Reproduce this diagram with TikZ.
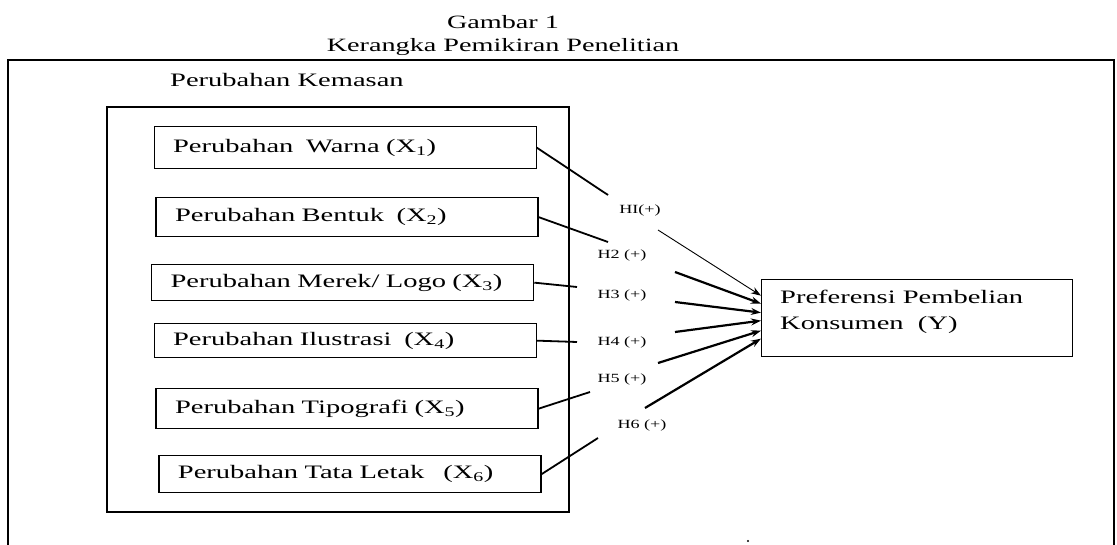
\documentclass[tikz,border=0pt]{standalone}
\usepackage{fontspec}
\setmainfont[FakeStretch=1.5]{Liberation Serif}
\newfontfamily\hlabelfont[FakeStretch=1.45]{Liberation Serif}
\usetikzlibrary{arrows.meta,calc}

\tikzset{
  varbox/.style={draw, line width=1.3pt, anchor=north west, inner xsep=19pt,
    text width=344pt, align=left, font=\fontsize{19}{23}\selectfont},
  hlabel/.style={inner sep=1pt, font=\hlabelfont\fontsize{12.5}{14}\selectfont},
  link/.style={line width=1.8pt},
  hyp/.style={line width=2.2pt, -{Stealth[length=10pt,width=7pt]}},
}

\begin{document}
\begin{tikzpicture}[x=1pt, y=-1pt]
\useasboundingbox (0,0) rectangle (1117,545);
% frames
\draw[line width=1.5pt] (8,545) -- (8,60) -- (1114,60) -- (1114,545);
\draw[line width=1.3pt] (107,107) rectangle (569,512);
\node[anchor=north, inner sep=0pt, align=center, font=\fontsize{18.8}{23.5}\selectfont] (title) at (503,15)
  {Gambar 1\\Kerangka Pemikiran Penelitian};
\node[anchor=base west, inner sep=0pt, font=\fontsize{19}{23}\selectfont] (kemasan) at (170,87) {Perubahan Kemasan};

% variables X
\node[varbox, minimum height=42pt] (x1) at (153.5,126) {Perubahan\ \ Warna (X\textsubscript{1})};
\node[varbox, minimum height=39pt] (x2) at (155.4,197) {Perubahan Bentuk\ \ (X\textsubscript{2})};
\node[varbox, minimum height=36pt] (x3) at (151,264) {Perubahan Merek/ Logo (X\textsubscript{3})};
\node[varbox, minimum height=34pt] (x4) at (153.5,323) {Perubahan Ilustrasi\ \ (X\textsubscript{4})};
\node[varbox, minimum height=40pt] (x5) at (155.4,388) {Perubahan Tipografi (X\textsubscript{5})};
\node[varbox, minimum height=37pt] (x6) at (158.3,455) {Perubahan Tata Letak\ \ \ (X\textsubscript{6})};

% variable Y
\node[draw, line width=1.3pt, anchor=north west, minimum width=311pt, minimum height=77pt] (y) at (761,279) {};
\node[anchor=north west, inner sep=0pt, align=left, font=\fontsize{19}{26}\selectfont] (ytext) at (780,290)
  {Preferensi Pembelian\\Konsumen\ \ (Y)};

% hypotheses
\node[hlabel] (h1) at (640,210) {HI(+)};
\node[hlabel] (h2) at (622,255) {H2 (+)};
\node[hlabel] (h3) at (622,295) {H3 (+)};
\node[hlabel] (h4) at (622,342) {H4 (+)};
\node[hlabel] (h5) at (622,379) {H5 (+)};
\node[hlabel] (h6) at (642,425) {H6 (+)};

\coordinate (a1) at (608,195);
\coordinate (a2) at (608,242);
\coordinate (a3) at (577,287);
\coordinate (a4) at (577,342);
\coordinate (a5) at (590,392);
\coordinate (a6) at (598,438);
\coordinate (b1) at (658,230);
\coordinate (b2) at (675,272);
\coordinate (b3) at (675,302);
\coordinate (b4) at (675,332);
\coordinate (b5) at (658,363);
\coordinate (b6) at (645,408);

\foreach \i in {1,...,6}
  \draw[link] (x\i.east) -- (a\i);

\draw[hyp, line width=0.9pt] (b1) -- ($(y.west)+(0,-22.5)$);
\draw[hyp] (b2) -- ($(y.west)+(0,-14.5)$);
\draw[hyp] (b3) -- ($(y.west)+(0,-5.5)$);
\draw[hyp] (b4) -- ($(y.west)+(0,2.5)$);
\draw[hyp] (b5) -- ($(y.west)+(0,12.5)$);
\draw[hyp] (b6) -- ($(y.west)+(0,20.5)$);

\fill (748,541) circle (1.2pt);
\end{tikzpicture}
\end{document}
